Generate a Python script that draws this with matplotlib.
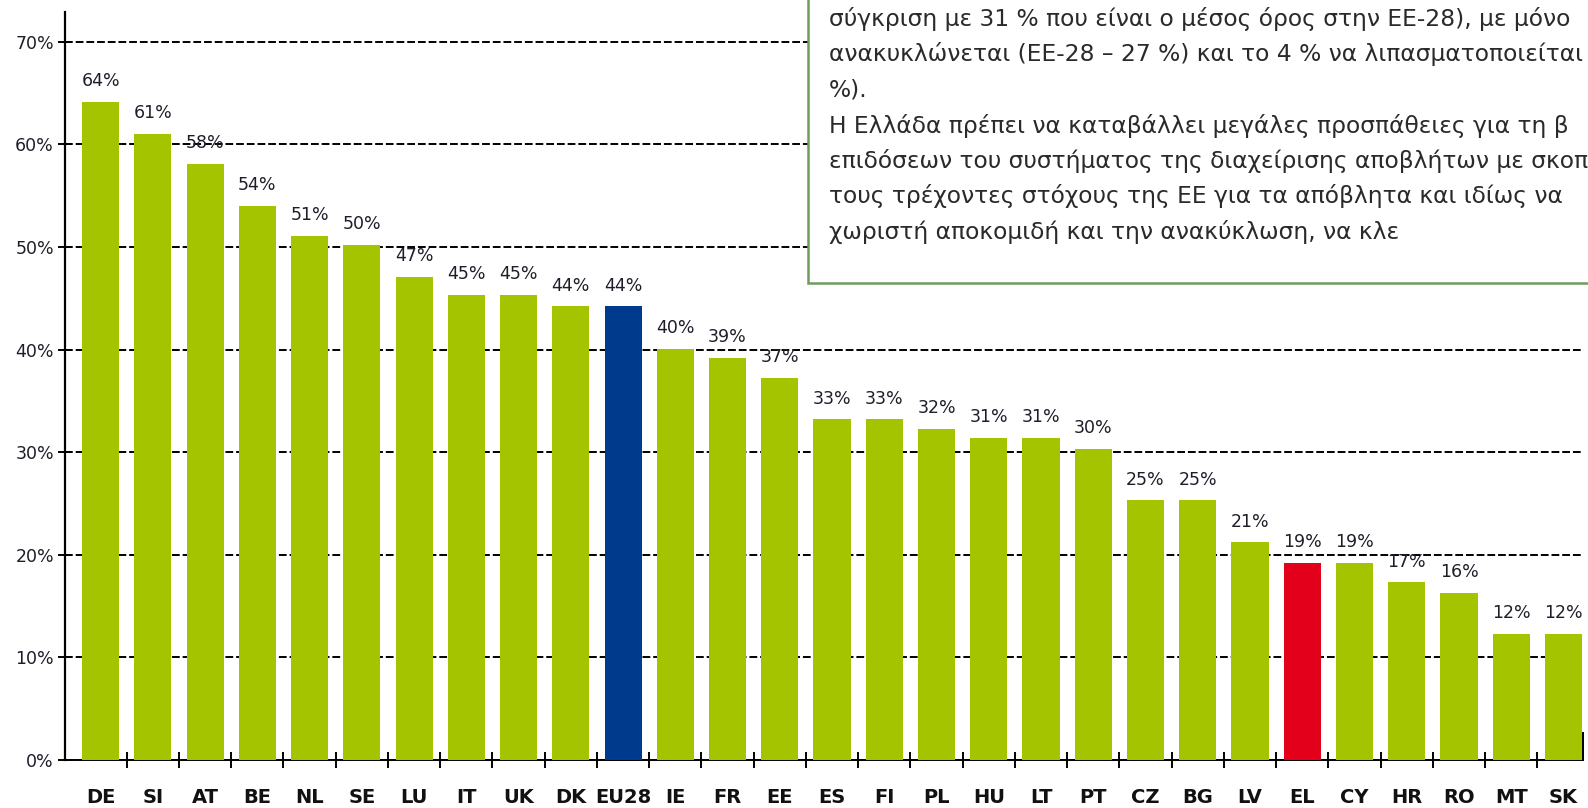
import matplotlib
matplotlib.use("Agg")
import matplotlib.pyplot as plt
from matplotlib.patches import Rectangle
from matplotlib.ticker import FixedLocator, NullFormatter

# ---- data ----
countries = ["DE", "SI", "AT", "BE", "NL", "SE", "LU", "IT", "UK", "DK", "EU28",
             "IE", "FR", "EE", "ES", "FI", "PL", "HU", "LT", "PT", "CZ", "BG",
             "LV", "EL", "CY", "HR", "RO", "MT", "SK"]
values = [64.1, 61.0, 58.1, 54.0, 51.1, 50.2, 47.1, 45.3, 45.3, 44.2, 44.2,
          40.1, 39.2, 37.2, 33.2, 33.2, 32.3, 31.4, 31.4, 30.3, 25.3, 25.3,
          21.2, 19.2, 19.2, 17.3, 16.3, 12.3, 12.3]
highlight_colors = {"EU28": "#003a8c", "EL": "#e2001a"}
base_color = "#a4c400"
ytick_values = [0, 10, 20, 30, 40, 50, 60, 70]
ytick_labels = ["0%", "10%", "20%", "30%", "40%", "50%", "60%", "70%"]

box_lines = [
    "σύγκριση με 31 % που είναι ο μέσος όρος στην ΕΕ-28), με μόνο",
    "ανακυκλώνεται (ΕΕ-28 – 27 %) και το 4 % να λιπασματοποιείται",
    "%).",
    "Η Ελλάδα πρέπει να καταβάλλει μεγάλες προσπάθειες για τη β",
    "επιδόσεων του συστήματος της διαχείρισης αποβλήτων με σκοπ",
    "τους τρέχοντες στόχους της ΕΕ για τα απόβλητα και ιδίως να",
    "χωριστή αποκομιδή και την ανακύκλωση, να κλε",
]

# ---- figure ----
W, H = 1588, 808
fig = plt.figure(figsize=(W / 100, H / 100), dpi=100)
ax_left, ax_right, ax_top, ax_bottom = 65, 1583, 12, 760
ax = fig.add_axes([ax_left / W, 1 - ax_bottom / H,
                   (ax_right - ax_left) / W, (ax_bottom - ax_top) / H])

x = list(range(len(countries)))
colors = [highlight_colors.get(c, base_color) for c in countries]
ax.bar(x, values, width=0.71, color=colors, zorder=2)

for xi, v in zip(x, values):
    ax.annotate(f"{round(v)}%", (xi, v), xytext=(0, 15), textcoords="offset points",
                ha="center", va="center", fontsize=12.5, color="#1e1e2a")

ax.set_xlim(-0.681, 28.373)
ax.set_ylim(0, 72.9)

# y axis
ax.set_yticks(ytick_values)
ax.set_yticklabels(ytick_labels, fontsize=12.5, color="#1e1e2a")
ax.tick_params(axis="y", direction="inout", length=10, width=1.4, pad=3)
ax.yaxis.grid(True, color="black", linestyle=(0, (4, 1.5)), linewidth=1.4, zorder=0)
ax.set_axisbelow(True)

# x axis: category labels + boundary "+" ticks
ax.set_xticks(x)
ax.set_xticklabels(countries, fontsize=14, fontweight="bold", color="#111111")
ax.tick_params(axis="x", which="major", length=0, pad=20)
ax.xaxis.set_minor_locator(FixedLocator([i + 0.5 for i in range(len(countries) - 1)]))
ax.xaxis.set_minor_formatter(NullFormatter())
ax.tick_params(axis="x", which="minor", direction="inout", length=12, width=1.4)

ax.spines["top"].set_visible(False)
ax.spines["right"].set_bounds(0, 2.6)
ax.spines["right"].set_linewidth(1.4)
ax.spines["left"].set_linewidth(1.6)
ax.spines["bottom"].set_linewidth(1.4)
ax.spines["bottom"].set_zorder(1)

# ---- text box (overlapping, cut by figure edge) ----
bx, by = 808, 283
rect = Rectangle((bx / W, 1 - by / H), (W + 50 - bx) / W, by / H + 0.1,
                 transform=fig.transFigure, facecolor="white",
                 edgecolor="#6e9b5e", linewidth=1.8, zorder=5)
fig.add_artist(rect)
for i, line in enumerate(box_lines):
    fig.text(829 / W, 1 - (19 + 35.5 * i) / H, line, ha="left", va="center",
             fontsize=16.8, color="#2a2a2a", zorder=6)

fig.savefig("out.png", dpi=100)
